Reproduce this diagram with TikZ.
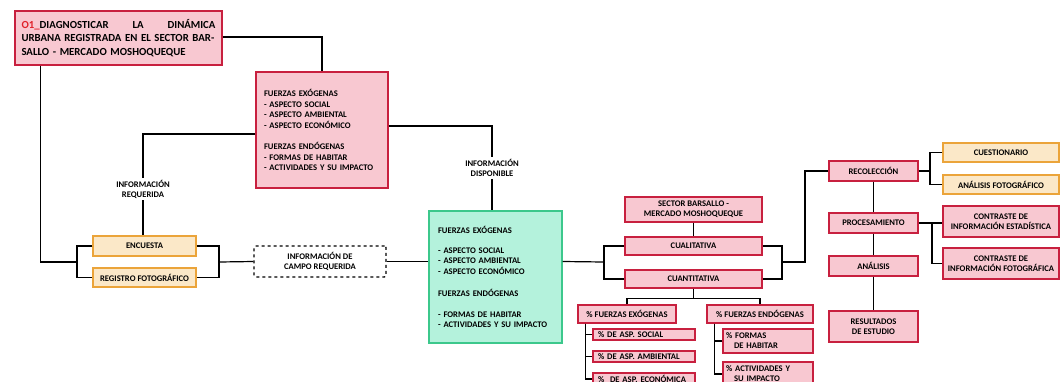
\documentclass[tikz,border=0pt]{standalone}
\usepackage{fontspec}
\setmainfont{Carlito}
\definecolor{pinkfill}{HTML}{F8C8D1}
\definecolor{pinkline}{HTML}{C8203F}
\definecolor{yelfill}{HTML}{FBE8C8}
\definecolor{yelline}{HTML}{EBA43A}
\definecolor{grnfill}{HTML}{B4F2DC}
\definecolor{grnline}{HTML}{3CC88C}
\definecolor{objred}{HTML}{E0202A}
\tikzset{
  box/.style={inner sep=0pt, font=\fontsize{8.6}{10}\selectfont\bfseries, align=center},
  pinkbox/.style={box, draw=pinkline, fill=pinkfill, line width=1.4pt},
  yelbox/.style={box, draw=yelline, fill=yelfill, line width=1.4pt},
  grnbox/.style={box, draw=grnline, fill=grnfill, line width=1.4pt},
  dashbox/.style={box, draw, dashed, line width=1.2pt, rounded corners=1.5pt},
  lbl/.style={box, fill=white, inner sep=2pt},
  link/.style={line width=1.2pt}
}
\begin{document}
\begin{tikzpicture}[x=1pt, y=-1pt]
    \useasboundingbox (0,0) rectangle (1062,381);
    \fill[white] (0,0) rectangle (1062,381);
    \clip (0,0) rectangle (1062,381);

    \node[pinkbox, minimum width=207pt, minimum height=54pt, text width=194pt, align=left,
          font=\fontsize{10.8}{13.5}\selectfont\bfseries] (obj) at (118.5,38)
          {\makebox[194pt][s]{\textcolor{objred}{O1\_}DIAGNOSTICAR\hfill LA\hfill DINÁMICA}\\
           \makebox[194pt][s]{URBANA REGISTRADA EN EL SECTOR BAR-}\\
           SALLO - MERCADO MOSHOQUEQUE};
    \node[pinkbox, minimum width=132pt, minimum height=116pt, text width=116pt, align=left,
          font=\fontsize{8.6}{10.5}\selectfont\bfseries] (fext) at (322,130)
          {FUERZAS EXÓGENAS\\- ASPECTO SOCIAL\\- ASPECTO AMBIENTAL\\- ASPECTO ECONÓMICO\\[11pt]
           FUERZAS ENDÓGENAS\\- FORMAS DE HABITAR\\- ACTIVIDADES Y SU IMPACTO};
    \node[lbl] (infreq) at (143,189) {INFORMACIÓN\\REQUERIDA};
    \node[lbl] (infdisp) at (492,168) {INFORMACIÓN\\DISPONIBLE};

    \node[yelbox, minimum width=103pt, minimum height=20pt] (enc) at (144.5,246) {ENCUESTA};
    \node[yelbox, minimum width=103pt, minimum height=19pt] (reg) at (144.5,277.5) {REGISTRO FOTOGRÁFICO};
    \node[dashbox, minimum width=132pt, minimum height=31pt] (campo) at (320,261.5) {INFORMACIÓN DE\\CAMPO REQUERIDA};

    \node[grnbox, minimum width=133pt, minimum height=132pt, text width=115pt, align=left,
          font=\fontsize{8.6}{10.5}\selectfont\bfseries] (green) at (495.5,277)
          {FUERZAS EXÓGENAS\\[9.5pt]- ASPECTO SOCIAL\\- ASPECTO AMBIENTAL\\- ASPECTO ECONÓMICO\\[11.5pt]
           FUERZAS ENDÓGENAS\\[10.5pt]- FORMAS DE HABITAR\\- ACTIVIDADES Y SU IMPACTO};

    \node[pinkbox, minimum width=137pt, minimum height=25pt] (sector) at (693.5,209.5) {SECTOR BARSALLO -\\MERCADO MOSHOQUEQUE};
    \node[pinkbox, minimum width=137pt, minimum height=18pt] (cuali) at (693.5,246) {CUALITATIVA};
    \node[pinkbox, minimum width=137pt, minimum height=18pt] (cuanti) at (693.5,279) {CUANTITATIVA};
    \node[pinkbox, minimum width=98pt, minimum height=18pt] (pfex) at (627,314) {\% FUERZAS EXÓGENAS};
    \node[pinkbox, minimum width=106pt, minimum height=18pt] (pfen) at (760,314) {\% FUERZAS ENDÓGENAS};
    \node[pinkbox, minimum width=102pt, minimum height=11pt, text width=92pt, align=left] (psoc) at (644,334.5) {\% DE ASP. SOCIAL};
    \node[pinkbox, minimum width=102pt, minimum height=11pt, text width=92pt, align=left] (pamb) at (644,356.5) {\% DE ASP. AMBIENTAL};
    \node[pinkbox, minimum width=102pt, minimum height=12pt, text width=92pt, align=left] (peco) at (644,379) {\%\ \ DE ASP. ECONÓMICA};
    \node[pinkbox, minimum width=90pt, minimum height=24pt, text width=84pt, align=left] (pfor) at (768,341) {\% FORMAS\\\hspace*{8pt}DE HABITAR};
    \node[pinkbox, minimum width=90pt, minimum height=24pt, text width=84pt, align=left] (pact) at (768,374) {\% ACTIVIDADES Y\\\hspace*{8pt}SU IMPACTO};

    \node[pinkbox, minimum width=89pt, minimum height=20pt] (rec) at (873.5,171) {RECOLECCIÓN};
    \node[pinkbox, minimum width=89pt, minimum height=20pt] (proc) at (873.5,223) {PROCESAMIENTO};
    \node[pinkbox, minimum width=89pt, minimum height=20pt] (anal) at (873.5,266) {ANÁLISIS};
    \node[pinkbox, minimum width=89pt, minimum height=31pt] (res) at (873.5,326.5) {RESULTADOS\\DE ESTUDIO};
    \node[yelbox, minimum width=116pt, minimum height=19pt] (cues) at (1001,152.5) {CUESTIONARIO};
    \node[yelbox, minimum width=116pt, minimum height=19pt] (afot) at (1001,184.5) {ANÁLISIS FOTOGRÁFICO};
    \node[pinkbox, minimum width=116pt, minimum height=31pt] (cest) at (1001,221.5) {CONTRASTE DE\\INFORMACIÓN ESTADÍSTICA};
    \node[pinkbox, minimum width=116pt, minimum height=31pt] (cfot) at (1001,263.5) {CONTRASTE DE\\INFORMACIÓN FOTOGRÁFICA};

    \coordinate (lb) at (77,262);
    \coordinate (rb) at (219,262);
    \coordinate (cb) at (604,262);
    \coordinate (db) at (782,262);
    \coordinate (rk) at (805,262);
    \coordinate (rq) at (930,171);
    \coordinate (pq) at (932,223);

    \begin{scope}[link]
    \draw ([yshift=1pt]obj.east) -| (fext.north);
    \draw ([xshift=26pt]obj.south west) |- (lb);
    \draw (enc.west) -| (lb) |- (reg.west);
    \draw (enc.east) -| (rb) |- (reg.east);
    \draw (rb) -- (campo.west);
    \draw ([yshift=-4pt]fext.west) -| (infreq.north);
    \draw (infreq.south) -- (infreq.south |- enc.north);
    \draw ([yshift=4pt]fext.east) -| (infdisp.north);
    \draw (infdisp.south) -- (infdisp.south |- green.north);
    \draw (campo.east) -- (campo.east -| green.west);
    \draw (campo.east -| green.east) -- (cb);
    \draw (cuali.west) -| (cb) |- (cuanti.west);
    \draw (cuali.east) -| (db) |- (cuanti.east);
    \draw (db) -- (rk) |- (rec.west);
    \draw (sector.south) -- (cuali.north);
    \draw (cuanti.south) -- ++(0,10) coordinate (cq);
    \draw (pfex.north) |- (cq) -| (pfen.north);
    \draw ([xshift=8pt]pfex.south west) |- (psoc.west);
    \draw ([xshift=8pt]pfex.south west) |- (pamb.west);
    \draw ([xshift=8pt]pfex.south west) |- (peco.west);
    \draw ([xshift=8pt]pfen.south west) |- (pfor.west);
    \draw ([xshift=8pt]pfen.south west) |- (pact.west);
    \draw (rec.south) -- (proc.north);
    \draw (proc.south) -- (anal.north);
    \draw (anal.south) -- (res.north);
    \draw (rec.east) -- (rq);
    \draw (cues.west) -| (rq) |- (afot.west);
    \draw (proc.east) -- (proc.east -| cest.west);
    \draw (pq) |- (cfot.west);
    \end{scope}
\end{tikzpicture}
\end{document}
